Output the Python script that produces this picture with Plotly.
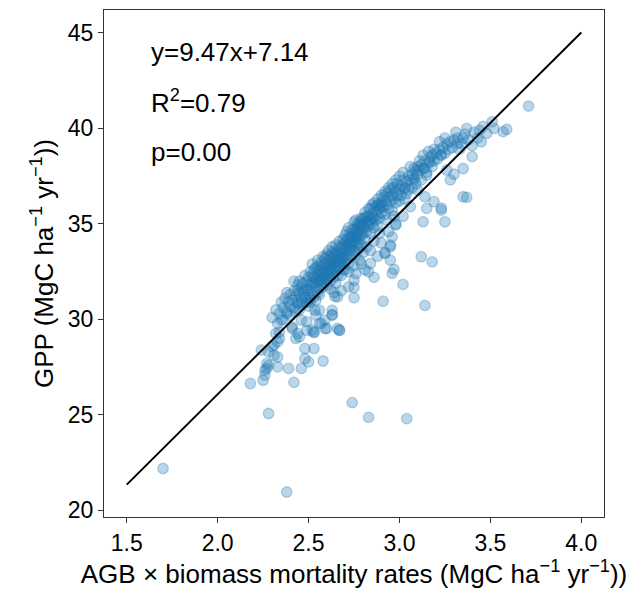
import plotly.graph_objects as go

# Regression fit shown on the chart
slope = 9.47
intercept = 7.14
fit_x = [1.5, 4.0]

# Sparse / outlying points (x: AGB x mortality, y: GPP)
x_sparse = [1.70, 2.38, 2.28, 2.74, 2.83, 3.04,
            2.18, 2.25, 2.26, 2.27, 2.28, 2.33, 2.39, 2.42, 2.46, 2.50, 2.58, 2.26, 2.27,
            2.24, 2.31, 2.33, 2.30, 2.33, 2.32, 2.34, 2.33, 2.35, 2.38, 2.41, 2.44, 2.43,
            2.45, 2.48, 2.53, 2.49, 2.53, 2.49, 2.54, 2.56, 2.60, 2.63, 2.67, 2.56, 2.44,
            2.48, 2.34, 2.31, 2.28,
            2.91, 3.14, 3.02, 3.12, 3.18, 2.75, 2.66, 2.67, 2.63, 2.59, 2.57, 2.53,
            2.96, 2.97, 2.95, 2.92, 2.95, 2.83, 2.84, 2.75, 3.25, 3.23, 3.15, 3.13,
            3.19, 3.14, 2.98, 2.96, 2.95, 3.37, 3.40, 3.35, 3.71, 3.51, 3.52, 3.57,
            3.59, 3.45, 3.48, 3.35, 3.32, 3.23, 3.17, 3.14, 3.08, 3.03, 3.23, 3.15,
            3.26, 3.10, 3.35, 3.30, 3.28,
            2.81, 2.88, 2.92, 2.86, 2.79, 2.84, 2.90, 2.94, 2.98, 3.02, 3.06,
            2.645, 2.68, 2.72, 2.75, 2.535, 2.59, 2.52, 2.46, 2.41, 2.63, 2.66]
y_sparse = [22.19, 20.96, 25.07, 25.64, 24.87, 24.80,
            26.64, 26.81, 27.08, 27.43, 27.60, 27.51, 27.43, 26.70, 27.43, 27.77, 27.82, 27.34, 27.69,
            28.39, 28.12, 28.03, 28.56, 28.82, 29.26, 29.34, 29.79, 29.96, 30.31, 29.52, 29.26, 29.00,
            29.08, 28.47, 28.47, 29.43, 29.34, 29.87, 30.22, 29.79, 29.52, 30.22, 29.43, 30.48, 30.83,
            27.95, 29.00, 28.65, 28.30,
            30.95, 30.73, 31.83, 33.28, 33.01, 31.13, 31.18, 29.43, 30.24, 29.52, 29.79, 29.31,
            32.41, 32.62, 33.10, 33.45, 33.89, 32.49, 32.93, 31.67, 35.11, 35.72, 35.81, 35.11,
            36.16, 36.42, 34.94, 34.32, 33.80, 36.39, 38.52, 36.42, 41.17, 40.35, 40.00, 39.83,
            39.95, 39.30, 39.74, 39.48, 39.22, 38.61, 38.25, 37.91, 37.30, 36.86, 35.83, 37.56,
            37.82, 36.77, 37.90, 37.60, 37.30,
            32.60, 33.30, 33.50, 32.20, 32.90, 33.60, 34.00, 34.60, 35.00, 35.40, 35.90,
            31.20, 31.50, 31.70, 32.05, 30.48, 29.96, 29.43, 29.96, 29.61, 30.48, 29.52]

# Dense band of points
x_dense = [2.30, 2.32, 2.34, 2.35, 2.36, 2.37, 2.38, 2.39, 2.40, 2.40,
           2.41, 2.42, 2.42, 2.43, 2.44, 2.44, 2.45, 2.45, 2.46, 2.46, 2.47, 2.47, 2.48, 2.48,
           2.49, 2.49, 2.50, 2.50, 2.50, 2.50,
           2.51, 2.51, 2.52, 2.52, 2.53, 2.53, 2.53, 2.54, 2.54, 2.55, 2.55, 2.55, 2.56, 2.56,
           2.57, 2.57, 2.57, 2.58, 2.58, 2.58, 2.59, 2.59, 2.59, 2.60, 2.60, 2.60, 2.60, 2.51,
           2.54, 2.56,
           2.61, 2.61, 2.61, 2.62, 2.62, 2.62, 2.63, 2.63, 2.63, 2.64, 2.64, 2.64, 2.65, 2.65,
           2.65, 2.66, 2.66, 2.66, 2.67, 2.67, 2.67, 2.68, 2.68, 2.68, 2.69, 2.69, 2.69, 2.70,
           2.70, 2.70, 2.62, 2.65, 2.68, 2.64, 2.70,
           2.71, 2.71, 2.71, 2.72, 2.72, 2.72, 2.73, 2.73, 2.73, 2.74, 2.74, 2.74, 2.75, 2.75,
           2.75, 2.76, 2.76, 2.76, 2.77, 2.77, 2.77, 2.78, 2.78, 2.78, 2.79, 2.79, 2.79, 2.80,
           2.80, 2.80, 2.72, 2.75, 2.78, 2.76, 2.80,
           2.81, 2.81, 2.81, 2.82, 2.82, 2.83, 2.83, 2.83, 2.84, 2.84, 2.85, 2.85, 2.85, 2.86,
           2.86, 2.87, 2.87, 2.88, 2.88, 2.88, 2.89, 2.89, 2.90, 2.90, 2.90, 2.82, 2.86, 2.89,
           2.91, 2.91, 2.92, 2.92, 2.93, 2.93, 2.94, 2.94, 2.95, 2.95, 2.96, 2.96, 2.97, 2.97,
           2.98, 2.98, 2.99, 2.99, 3.00, 3.00, 2.93, 2.97,
           3.01, 3.01, 3.02, 3.03, 3.03, 3.04, 3.05, 3.05, 3.06, 3.07, 3.07, 3.08, 3.09, 3.09,
           3.10, 3.10,
           3.11, 3.12, 3.12, 3.13, 3.14, 3.15, 3.16, 3.17, 3.18, 3.18, 3.19, 3.20,
           3.21, 3.22, 3.23, 3.24, 3.25, 3.26, 3.27, 3.28, 3.29, 3.30,
           3.32, 3.34, 3.36, 3.38, 3.41, 3.43,
           2.44, 2.45, 2.46, 2.47, 2.48, 2.49, 2.50, 2.51, 2.52, 2.52, 2.53, 2.54, 2.55, 2.55,
           2.56, 2.56, 2.57, 2.57, 2.58, 2.58, 2.59, 2.59, 2.60, 2.60, 2.61, 2.61, 2.62, 2.62,
           2.63, 2.63, 2.64, 2.64, 2.65, 2.65, 2.66, 2.66, 2.67, 2.67, 2.68, 2.68, 2.69, 2.69,
           2.70, 2.70, 2.71, 2.71, 2.72, 2.72, 2.73, 2.73, 2.74, 2.74, 2.75, 2.75, 2.76, 2.76,
           2.77, 2.77, 2.78, 2.78, 2.79, 2.79, 2.80, 2.81, 2.82, 2.83, 2.84, 2.85, 2.86, 2.87,
           2.88, 2.89, 2.90, 2.92, 2.94, 2.96, 2.98, 3.00, 3.02, 3.04, 3.06, 3.08, 3.11, 3.13,
           3.16, 3.19, 3.22, 3.25, 3.31, 3.33, 3.37, 3.40, 3.44, 3.46,
           2.36, 2.38, 2.40, 2.42, 2.43]
y_dense = [30.1, 30.5, 30.3, 30.9, 30.6, 31.1, 30.4, 30.9, 31.3, 30.7,
           31.0, 31.5, 30.6, 31.2, 31.8, 30.9, 31.4, 30.5, 31.7, 31.1, 31.9, 30.8, 31.5, 31.2,
           32.0, 30.9, 31.6, 31.3, 32.2, 30.7,
           31.8, 31.1, 32.3, 31.5, 31.9, 32.6, 31.2, 32.1, 31.7, 32.4, 31.4, 32.8, 32.0, 31.6,
           32.5, 31.9, 33.0, 32.2, 31.7, 32.7, 32.4, 31.9, 33.2, 32.6, 32.1, 31.8, 33.0, 30.9,
           31.0, 31.3,
           32.8, 32.3, 33.3, 32.5, 32.0, 33.0, 32.9, 32.4, 33.5, 32.7, 32.2, 33.2, 33.0, 32.5,
           33.6, 32.8, 33.3, 32.3, 33.1, 32.7, 33.8, 33.4, 32.9, 33.0, 33.6, 33.2, 32.6, 33.5,
           33.0, 34.0, 31.6, 31.9, 32.3, 31.4, 32.6,
           33.7, 33.2, 34.2, 33.9, 33.4, 32.9, 34.0, 33.6, 34.5, 33.8, 33.3, 34.3, 34.1, 33.6,
           34.7, 34.3, 33.9, 33.4, 34.5, 34.0, 35.0, 34.6, 34.2, 33.7, 34.8, 34.4, 33.9, 35.0,
           34.5, 35.3, 32.5, 32.8, 33.1, 32.4, 33.5,
           34.8, 35.3, 34.2, 35.1, 34.6, 35.4, 34.9, 35.8, 35.2, 34.5, 35.5, 35.0, 36.0, 35.3,
           34.8, 35.7, 35.2, 36.0, 35.5, 34.9, 35.8, 35.3, 36.1, 35.6, 36.5, 33.8, 34.1, 34.5,
           35.9, 36.4, 36.2, 35.5, 36.6, 36.0, 36.4, 35.8, 36.8, 36.2, 36.5, 35.7, 36.9, 36.3,
           36.7, 36.1, 37.1, 36.5, 36.8, 36.2, 35.2, 35.4,
           37.0, 36.5, 37.3, 36.9, 36.3, 37.2, 37.5, 36.8, 37.3, 37.6, 36.9, 37.4, 37.8, 37.1,
           37.6, 38.0,
           37.8, 38.1, 37.3, 37.9, 38.3, 37.7, 38.2, 38.5, 38.0, 38.6, 38.3, 38.7,
           38.4, 38.9, 38.6, 39.0, 38.7, 39.2, 38.9, 39.3, 39.0, 39.4,
           39.5, 39.2, 39.7, 39.4, 39.8, 39.5,
           31.5, 32.0, 30.9, 31.4, 32.3, 31.6, 31.0, 32.5, 31.9, 32.9, 32.2, 32.7, 32.0, 33.1,
           32.6, 32.3, 32.1, 32.8, 33.3, 32.4, 32.9, 32.2, 33.4, 32.4, 32.6, 33.6, 33.2, 32.8,
           33.8, 32.6, 33.4, 33.0, 33.9, 32.8, 33.5, 33.1, 33.4, 34.1, 33.7, 33.2, 34.2, 33.9,
           33.3, 34.4, 33.9, 34.6, 34.2, 34.8, 33.8, 34.3, 34.7, 34.0, 34.4, 35.1, 34.6, 35.2,
           34.3, 34.8, 35.1, 34.9, 35.3, 35.0, 34.8, 35.6, 35.4, 35.1, 35.8, 35.3, 36.1, 35.9,
           36.3, 36.0, 35.9, 36.7, 36.9, 37.1, 37.3, 37.5, 37.7, 36.6, 38.0, 37.9, 38.3, 38.6,
           38.8, 38.9, 39.3, 39.5, 39.8, 38.9, 40.0, 39.1, 39.9, 40.1,
           30.0, 31.4, 30.2, 32.0, 30.4]

x_pts = x_sparse + x_dense
y_pts = y_sparse + y_dense
fit_y = [slope * v + intercept for v in fit_x]

FONT = "Liberation Sans, Arial, sans-serif"
blue_a = "rgba(31,119,180,0.3)"

fig = go.Figure()
fig.add_trace(go.Scatter(
    x=x_pts, y=y_pts, mode="markers",
    marker=dict(size=10.5, color=blue_a, line=dict(color=blue_a, width=1.3)),
    showlegend=False, hoverinfo="skip"))
fig.add_trace(go.Scatter(
    x=fit_x, y=fit_y, mode="lines",
    line=dict(color="black", width=2), showlegend=False, hoverinfo="skip"))

ann_font = dict(family=FONT, size=26, color="black")
texts = ["y=9.47x+7.14", "R<sup>2</sup>=0.79", "p=0.00"]
ypos = [0.918, 0.820, 0.720]
for t, yp in zip(texts, ypos):
    fig.add_annotation(text=t, xref="paper", yref="paper", x=0.090, y=yp,
                       xanchor="left", yanchor="middle", showarrow=False, font=ann_font)

axis_common = dict(showline=True, linecolor="#333333", linewidth=1.2, mirror=True,
                   ticks="outside", ticklen=5, tickwidth=1.2, tickcolor="#333333",
                   showgrid=False, zeroline=False,
                   tickfont=dict(family=FONT, size=23, color="black"))

fig.update_layout(
    width=636, height=606,
    margin=dict(l=104, r=32, t=10, b=89),
    paper_bgcolor="white", plot_bgcolor="white",
    xaxis=dict(range=[1.375, 4.125], tickvals=[1.5, 2.0, 2.5, 3.0, 3.5, 4.0],
               ticktext=["1.5", "2.0", "2.5", "3.0", "3.5", "4.0"],
               title=dict(text="AGB × biomass mortality rates (MgC ha<sup>−1</sup> yr<sup>−1</sup>))",
                          font=dict(family=FONT, size=26, color="black"), standoff=8),
               **axis_common),
    yaxis=dict(range=[19.65, 46.2], tickvals=[20, 25, 30, 35, 40, 45],
               title=dict(text="GPP (MgC ha<sup>−1</sup> yr<sup>−1</sup>))",
                          font=dict(family=FONT, size=26, color="black"), standoff=6),
               **axis_common),
)

fig.write_html("out.html")
